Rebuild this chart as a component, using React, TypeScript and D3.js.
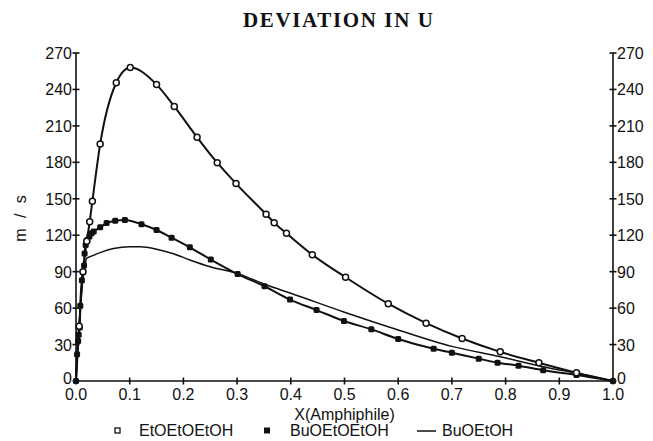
import { useEffect, useRef } from 'react';
import * as d3 from 'd3';

// EtOEtOEtOH (open markers)
const etX = [0, 0.006, 0.013, 0.02, 0.0255, 0.0305, 0.045, 0.075, 0.101, 0.15, 0.183, 0.2255, 0.263, 0.298, 0.354, 0.369, 0.392, 0.44, 0.502, 0.5815, 0.652, 0.719, 0.79, 0.862, 0.932, 1.0];
const etY = [0, 45, 90, 115, 131, 148, 195, 245.5, 258, 244, 226, 200.6, 179.7, 162.5, 137.2, 130.3, 121.6, 104, 85.4, 63.6, 47.6, 35, 24, 15, 6.8, 0];

// BuOEtOEtOH (filled markers)
const buX = [0, 0.002, 0.004, 0.005, 0.007, 0.008, 0.011, 0.013, 0.015, 0.016, 0.018, 0.021, 0.025, 0.029, 0.033, 0.045, 0.057, 0.073, 0.091, 0.122, 0.15, 0.178, 0.212, 0.251, 0.301, 0.351, 0.3985, 0.448, 0.499, 0.55, 0.6, 0.666, 0.7, 0.75, 0.785, 0.824, 0.87, 0.932, 1.0];
const buY = [0, 22, 33, 38, 44, 62, 83, 90, 95, 105, 112, 116, 119, 121.6, 123, 126.5, 130, 132, 132.5, 129, 124.3, 118, 110, 100, 88, 78, 67, 58.4, 49.4, 42.5, 34.6, 26.5, 23.3, 18.4, 15.1, 12.6, 8.8, 4.9, 0];

// BuOEtOH (line only)
const boX = [0, 0.004, 0.008, 0.012, 0.016, 0.02, 0.03, 0.05, 0.07, 0.1, 0.12, 0.15, 0.18, 0.212, 0.25, 0.3, 0.355, 0.4, 0.5, 0.6, 0.7, 0.79, 0.87, 0.932, 1.0];
const boY = [0, 35, 60, 80, 93, 101, 103, 106.5, 109, 110.5, 110.5, 108.5, 105, 99.6, 94, 88.6, 79, 72.2, 56.6, 42, 28.5, 20, 11.8, 6.3, 0];

const xTicks = [0, 0.1, 0.2, 0.3, 0.4, 0.5, 0.6, 0.7, 0.8, 0.9, 1.0];
const yTicks = [0, 30, 60, 90, 120, 150, 180, 210, 240, 270];
const legendLabels = ['EtOEtOEtOH', 'BuOEtOEtOH', 'BuOEtOH'];

const W = 653;
const H = 441;

const App = () => {
  const svgRef = useRef(null);

  useEffect(() => {
    const svg = d3.select(svgRef.current);
    svg.selectAll('*').remove();

    const x = d3.scaleLinear().domain([0, 1]).range([76, 613]);
    const y = d3.scaleLinear().domain([0, 270]).range([381, 53]);
    const font = '"Liberation Sans", Arial, sans-serif';

    // title
    svg.append('text')
      .attr('x', 243).attr('y', 27)
      .attr('textLength', 190).attr('lengthAdjust', 'spacing')
      .attr('font-family', '"Liberation Serif", "DejaVu Serif", serif')
      .attr('font-weight', 'bold').attr('font-size', 21)
      .attr('fill', '#111')
      .text('DEVIATION IN U');

    const axes = svg.append('g').attr('stroke', '#111').attr('stroke-width', 1.6).attr('fill', 'none');
    axes.append('line').attr('x1', x(0)).attr('x2', x(1)).attr('y1', y(0)).attr('y2', y(0));
    axes.append('line').attr('x1', x(0)).attr('x2', x(0)).attr('y1', y(0)).attr('y2', y(270));
    axes.append('line').attr('x1', x(1)).attr('x2', x(1)).attr('y1', y(0)).attr('y2', y(270));

    xTicks.forEach(t => {
      axes.append('line').attr('x1', x(t)).attr('x2', x(t)).attr('y1', y(0) - 3.5).attr('y2', y(0) + 3.5);
      svg.append('text')
        .attr('x', x(t)).attr('y', y(0) + 19)
        .attr('text-anchor', 'middle')
        .attr('font-family', font).attr('font-size', 16).attr('fill', '#111')
        .text(d3.format('.1f')(t));
    });

    yTicks.forEach(t => {
      const dy = t === 0 ? 3 : 6;
      axes.append('line').attr('x1', x(0) - 3.5).attr('x2', x(0) + 3.5).attr('y1', y(t)).attr('y2', y(t));
      axes.append('line').attr('x1', x(1) - 3.5).attr('x2', x(1) + 3.5).attr('y1', y(t)).attr('y2', y(t));
      svg.append('text')
        .attr('x', x(0) - 4).attr('y', y(t) + dy)
        .attr('text-anchor', 'end')
        .attr('font-family', font).attr('font-size', 16).attr('fill', '#111')
        .text(t);
      svg.append('text')
        .attr('x', x(1) + 4).attr('y', y(t) + dy)
        .attr('font-family', font).attr('font-size', 16).attr('fill', '#111')
        .text(t);
    });

    // axis titles
    svg.append('text')
      .attr('transform', 'translate(26,217) rotate(-90)')
      .attr('text-anchor', 'middle')
      .attr('font-family', font).attr('font-size', 16).attr('fill', '#111')
      .attr('letter-spacing', 3)
      .text('m / s');
    svg.append('text')
      .attr('x', (x(0) + x(1)) / 2).attr('y', 420)
      .attr('text-anchor', 'middle')
      .attr('font-family', font).attr('font-size', 16).attr('fill', '#111')
      .text('X(Amphiphile)');

    const line = d3.line<[number, number]>()
      .x(d => x(d[0])).y(d => y(d[1]))
      .curve(d3.curveMonotoneX);

    const et = etX.map((v, i) => [v, etY[i]] as [number, number]);
    const bu = buX.map((v, i) => [v, buY[i]] as [number, number]);
    const bo = boX.map((v, i) => [v, boY[i]] as [number, number]);

    svg.append('path').attr('d', line(bo)).attr('fill', 'none').attr('stroke', '#111').attr('stroke-width', 1.5);
    svg.append('path').attr('d', line(bu)).attr('fill', 'none').attr('stroke', '#111').attr('stroke-width', 2);
    svg.append('path').attr('d', line(et)).attr('fill', 'none').attr('stroke', '#111').attr('stroke-width', 2);

    svg.append('g').selectAll('rect')
      .data(bu).enter().append('rect')
      .attr('x', d => x(d[0]) - 3).attr('y', d => y(d[1]) - 3)
      .attr('width', 6).attr('height', 6).attr('rx', 1.5)
      .attr('fill', '#111');

    svg.append('g').selectAll('circle')
      .data(et.slice(1, -1)).enter().append('circle')
      .attr('cx', d => x(d[0])).attr('cy', d => y(d[1]))
      .attr('r', 3).attr('fill', 'white')
      .attr('stroke', '#111').attr('stroke-width', 1.5);

    // legend
    const lg = svg.append('g');
    const ly = 436;
    lg.append('rect').attr('x', 115).attr('y', ly - 8).attr('width', 5).attr('height', 5)
      .attr('fill', 'white').attr('stroke', '#111').attr('stroke-width', 1.3);
    lg.append('rect').attr('x', 264).attr('y', ly - 8.5).attr('width', 6).attr('height', 6)
      .attr('fill', '#111');
    lg.append('line').attr('x1', 417).attr('x2', 436).attr('y1', ly - 5).attr('y2', ly - 5)
      .attr('stroke', '#111').attr('stroke-width', 1.5);
    const lx = [139, 290, 442];
    legendLabels.forEach((l, i) => {
      lg.append('text')
        .attr('x', lx[i]).attr('y', ly)
        .attr('font-family', font).attr('font-size', 16).attr('fill', '#111')
        .text(l);
    });
  }, []);

  return (
    <div style={{ position: 'fixed', left: 0, top: 0 }}>
      <svg ref={svgRef} width={W} height={H} style={{ display: 'block', background: 'white' }}></svg>
    </div>
  );
};

export default App;
